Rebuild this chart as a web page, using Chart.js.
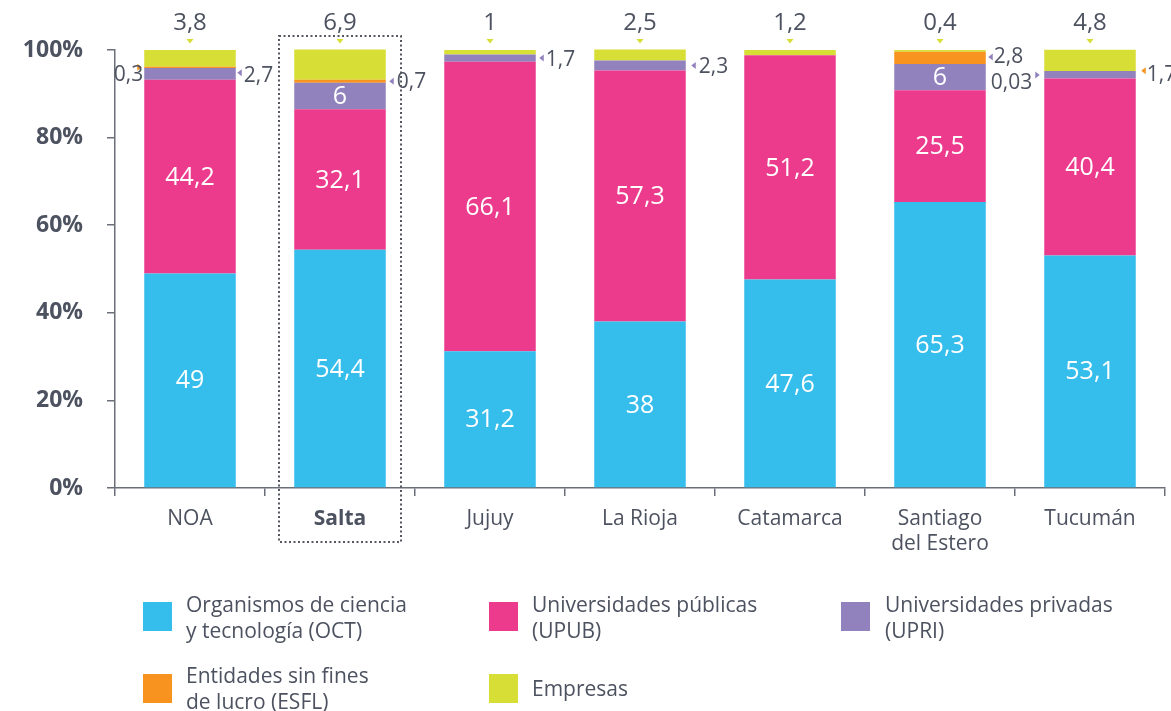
<!DOCTYPE html>
<html>
<head>
<meta charset="utf-8">
<script src="https://cdn.jsdelivr.net/npm/chart.js@4"></script>
<style>
  html, body { margin: 0; padding: 0; background: #fff; }
  #wrap { position: relative; width: 1171px; height: 711px; font-family: "Open Sans", sans-serif; color: #4d5260; }
  #chart { position: absolute; left: 0; top: 0; }
  .sw { position: absolute; width: 29px; height: 29px; }
  .lt { position: absolute; font-size: 21px; line-height: 26px; white-space: nowrap; }
</style>
</head>
<body>
<div id="wrap">
  <canvas id="chart" width="1171" height="711"></canvas>

  <div class="sw" style="left:143px;top:602px;background:#35BDEB"></div>
  <div class="lt" style="left:186px;top:591px">Organismos de ciencia<br>y tecnología (OCT)</div>
  <div class="sw" style="left:489px;top:602px;background:#EC3B8D"></div>
  <div class="lt" style="left:532px;top:591px">Universidades públicas<br>(UPUB)</div>
  <div class="sw" style="left:841px;top:602px;background:#9182BD"></div>
  <div class="lt" style="left:885px;top:591px">Universidades privadas<br>(UPRI)</div>
  <div class="sw" style="left:143px;top:674px;background:#F7931E"></div>
  <div class="lt" style="left:186px;top:662px">Entidades sin fines<br>de lucro (ESFL)</div>
  <div class="sw" style="left:489px;top:674px;background:#D7DE35"></div>
  <div class="lt" style="left:532px;top:675px">Empresas</div>
</div>

<script>
/* ── datos (% del total por sector) ── */
const categories = ['NOA', 'Salta', 'Jujuy', 'La Rioja', 'Catamarca', ['Santiago', 'del Estero'], 'Tucumán'];
const oct      = [49,   54.4, 31.2, 38,   47.6, 65.3, 53.1];
const upub     = [44.2, 32.1, 66.1, 57.3, 51.2, 25.5, 40.4];
const upri     = [2.7,  6,    1.7,  2.3,  0,    6,    1.7];
const esfl     = [0.3,  0.7,  0,    0,    0,    2.8,  0.03];
const empresas = [3.8,  6.9,  1,    2.5,  1.2,  0.4,  4.8];
const yTicks   = [0, 20, 40, 60, 80, 100];

const COLORS = {
  oct : '#35BDEB',
  upub: '#EC3B8D',
  upri: '#9182BD',
  esfl: '#F7931E',
  emp : '#D7DE35',
};
const TXT  = '#4d5260';
const FONT = '"Open Sans", sans-serif';

const fmt = v => String(v).replace('.', ',');

/* etiquetas blancas dentro de la barra: [dataset, índice] */
const insideLabels = [
  ...oct.map((_, i) => [0, i]),
  ...upub.map((_, i) => [1, i]),
  [2, 1], [2, 5],
];

/* etiquetas laterales con flechita
   ax/tx: separación de flecha/texto respecto al borde de la barra
   ay/ty: desplazamiento vertical respecto al centro del segmento */
const sideLabels = [
  { ds: 3, i: 0, side: 'left',  arrow: COLORS.esfl, ax: 5, tx: 1,  ay: 0,  ty: 7 },
  { ds: 2, i: 0, side: 'right', arrow: COLORS.upri, ax: 4, tx: 8,  ay: -1, ty: 1 },
  { ds: 3, i: 1, side: 'right', arrow: COLORS.upri, ax: 6, tx: 11, ay: 0,  ty: 0 },
  { ds: 2, i: 2, side: 'right', arrow: COLORS.upri, ax: 6, tx: 10, ay: 0,  ty: 1 },
  { ds: 2, i: 3, side: 'right', arrow: COLORS.upri, ax: 8, tx: 13, ay: 0,  ty: 0 },
  { ds: 3, i: 5, side: 'right', arrow: COLORS.upri, ax: 5, tx: 8,  ay: -1, ty: -2 },
  { ds: 3, i: 6, side: 'left',  arrow: COLORS.upri, ax: 7, tx: 12, ay: 4,  ty: 11 },
  { ds: 2, i: 6, side: 'right', arrow: COLORS.esfl, ax: 8, tx: 11, ay: -4, ty: -1 },
];

function tri(ctx, x, y, dir, color) {
  ctx.fillStyle = color;
  ctx.beginPath();
  if (dir === 'down') {
    ctx.moveTo(x - 3.5, y - 2); ctx.lineTo(x + 3.5, y - 2); ctx.lineTo(x, y + 2.5);
  } else if (dir === 'left') {
    ctx.moveTo(x + 2, y - 3.5); ctx.lineTo(x + 2, y + 3.5); ctx.lineTo(x - 2.5, y);
  } else {
    ctx.moveTo(x - 2, y - 3.5); ctx.lineTo(x - 2, y + 3.5); ctx.lineTo(x + 2.5, y);
  }
  ctx.closePath();
  ctx.fill();
}

const labelsPlugin = {
  id: 'labels',
  afterDatasetsDraw(chart) {
    const ctx = chart.ctx;
    ctx.save();
    ctx.textBaseline = 'middle';

    /* dentro */
    ctx.font = '25px ' + FONT;
    ctx.textAlign = 'center';
    insideLabels.forEach(([ds, i]) => {
      const el = chart.getDatasetMeta(ds).data[i];
      const { x, y, base } = el.getProps(['x', 'y', 'base'], true);
      ctx.fillStyle = '#fff';
      ctx.fillText(fmt(chart.data.datasets[ds].data[i]), x, (y + base) / 2 + 1);
    });

    /* arriba: empresas */
    const top = chart.scales.y.getPixelForValue(100);
    chart.getDatasetMeta(4).data.forEach((el, i) => {
      ctx.fillStyle = TXT;
      ctx.font = '24px ' + FONT;
      ctx.textAlign = 'center';
      ctx.fillText(fmt(empresas[i]), el.x, top - 27);
      tri(ctx, el.x, top - 9, 'down', COLORS.emp);
    });

    /* laterales */
    ctx.font = '21px ' + FONT;
    sideLabels.forEach(s => {
      const el = chart.getDatasetMeta(s.ds).data[s.i];
      const { x, y, base, width } = el.getProps(['x', 'y', 'base', 'width'], true);
      const cy = (y + base) / 2;
      const txt = fmt(chart.data.datasets[s.ds].data[s.i]);
      if (s.side === 'right') {
        const edge = x + width / 2;
        tri(ctx, edge + s.ax, cy + s.ay, 'left', s.arrow);
        ctx.fillStyle = TXT;
        ctx.textAlign = 'left';
        ctx.fillText(txt, edge + s.tx, cy + s.ty + 1);
      } else {
        const edge = x - width / 2;
        tri(ctx, edge - s.ax, cy + s.ay, 'right', s.arrow);
        ctx.fillStyle = TXT;
        ctx.textAlign = 'right';
        ctx.fillText(txt, edge - s.tx, cy + s.ty + 1);
      }
    });

    /* recuadro punteado en Salta */
    const cx = chart.scales.x.getPixelForValue(1);
    ctx.strokeStyle = '#55585f';
    ctx.lineWidth = 2;
    ctx.setLineDash([2, 2.5]);
    ctx.strokeRect(cx - 61, top - 14, 122, 506);
    ctx.restore();
  },
};

const mk = (label, data, color) => ({
  label, data,
  backgroundColor: color,
  borderWidth: 0,
  barPercentage: 0.61,
  categoryPercentage: 1,
  clip: false,
});

new Chart(document.getElementById('chart'), {
  type: 'bar',
  data: {
    labels: categories,
    datasets: [
      mk('Organismos de ciencia y tecnología (OCT)', oct, COLORS.oct),
      mk('Universidades públicas (UPUB)', upub, COLORS.upub),
      mk('Universidades privadas (UPRI)', upri, COLORS.upri),
      mk('Entidades sin fines de lucro (ESFL)', esfl, COLORS.esfl),
      mk('Empresas', empresas, COLORS.emp),
    ],
  },
  options: {
    responsive: false,
    animation: false,
    layout: { padding: { top: 50, right: 6, left: 0, bottom: 0 } },
    plugins: { legend: { display: false }, tooltip: { enabled: false } },
    scales: {
      x: {
        stacked: true,
        afterFit: s => { s.height = 223; },
        grid: {
          offset: true, drawOnChartArea: false, drawTicks: true,
          tickLength: 8, color: '#6b6f78', lineWidth: 1.5,
        },
        border: { color: '#6b6f78', width: 1.5 },
        ticks: {
          color: TXT, padding: 10, maxRotation: 0, autoSkip: false,
          font: c => ({ family: FONT, size: 21, lineHeight: 1.2, weight: c.index === 1 ? 'bold' : 'normal' }),
        },
      },
      y: {
        stacked: true,
        min: 0, max: 100,
        afterFit: s => { s.width = 115; },
        afterBuildTicks: s => { s.ticks = yTicks.map(v => ({ value: v })); },
        grid: {
          drawOnChartArea: false, drawTicks: true,
          tickLength: 8, color: '#6b6f78', lineWidth: 1.5,
        },
        border: { color: '#6b6f78', width: 1.5 },
        ticks: {
          color: TXT, padding: 24,
          font: { family: FONT, size: 23, weight: 'bold' },
          callback: v => v + '%',
        },
      },
    },
  },
  plugins: [labelsPlugin],
});
</script>
</body>
</html>
